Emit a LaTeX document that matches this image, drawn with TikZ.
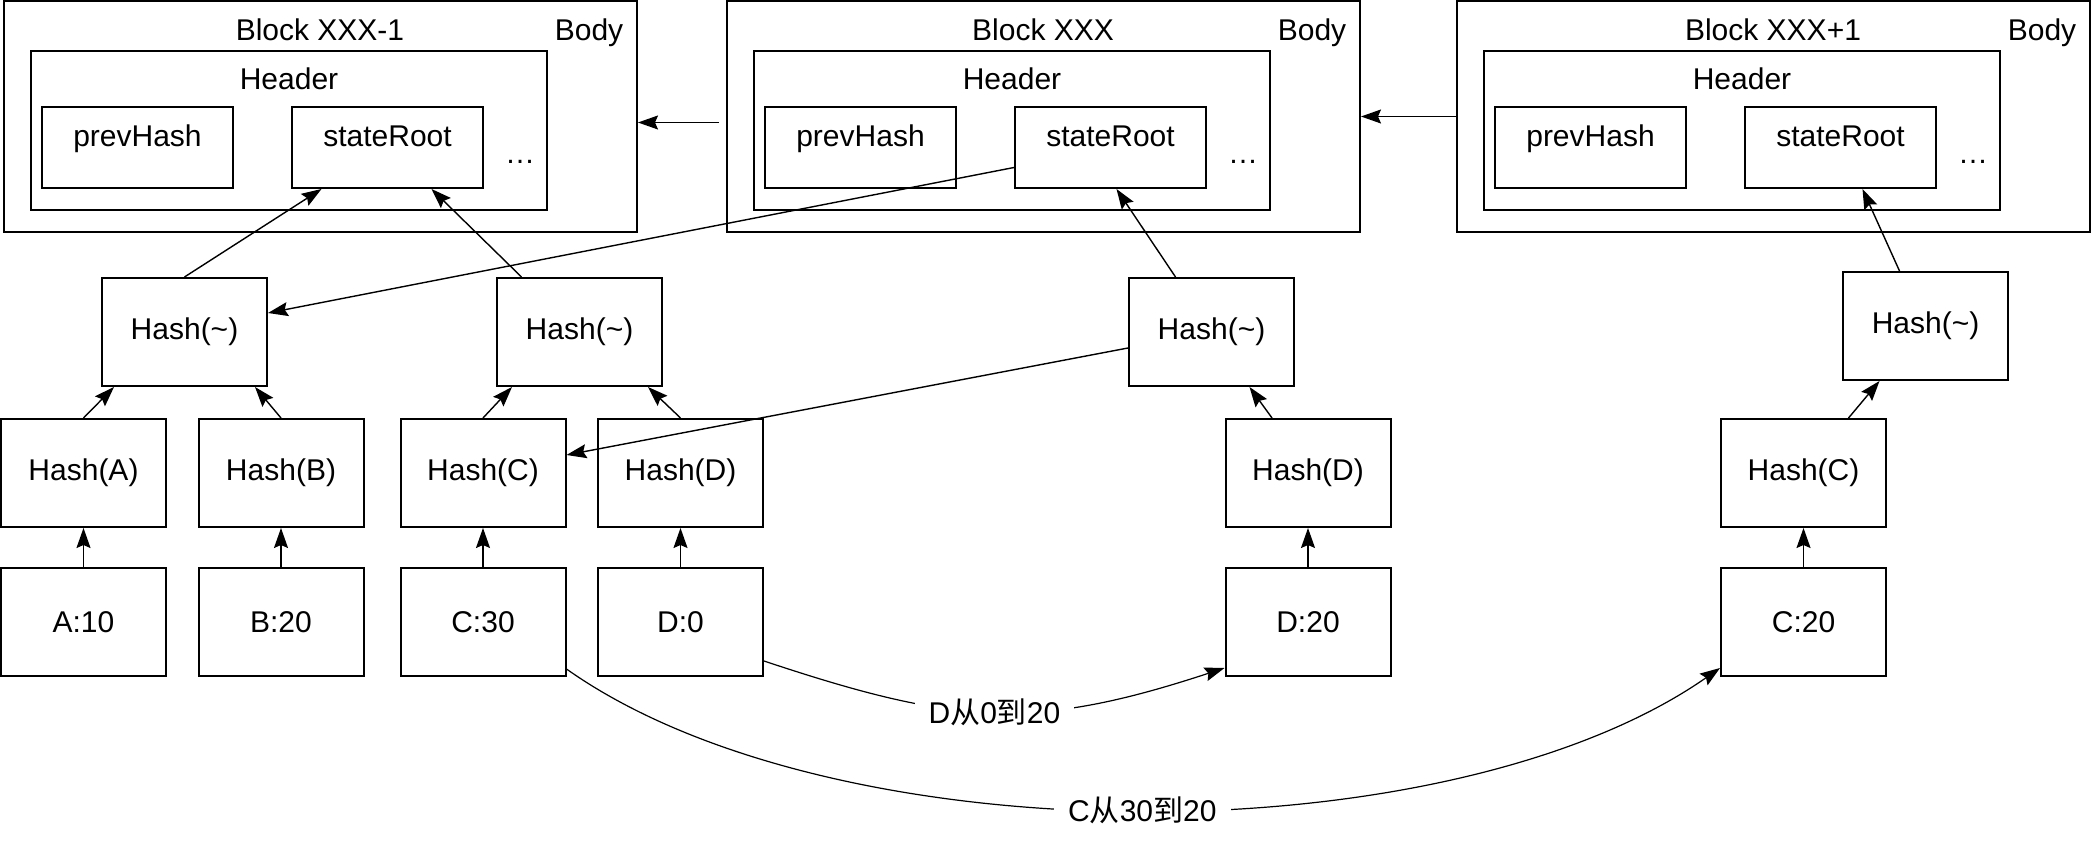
\documentclass[tikz,border=0pt]{standalone}
\usepackage{fontspec}
\setmainfont{Liberation Sans}
\newfontfamily\cjk{Noto Sans CJK SC}
\usetikzlibrary{arrows.meta}

\begin{document}
\begin{tikzpicture}[x=0.5pt,y=-0.5pt,line width=1pt,font=\fontsize{15pt}{18pt}\selectfont]
    \tikzstyle{box}=[draw,rectangle,inner sep=0pt]
    \tikzstyle{body}=[box,minimum width=316.5pt,minimum height=115.5pt]
    \tikzstyle{header}=[box,minimum width=258pt,minimum height=79.5pt]
    \tikzstyle{field}=[box,minimum width=95.5pt,minimum height=40.5pt]
    \tikzstyle{hash}=[box,minimum width=82.5pt,minimum height=54pt]
    \tikzstyle{value}=[hash]
    \tikzstyle{txt}=[anchor=base,inner sep=0pt]
    \tikzstyle{arrow}=[-{Stealth[length=10pt,width=7pt,inset=1.5pt]},line width=0.7pt]
    \tikzstyle{change}=[arrow,line width=0.6pt]
    \tikzstyle{changelabel}=[fill=white,inner xsep=7pt,inner ysep=2pt]

    \useasboundingbox (0,0) rectangle (2092,844);

    % Draw the three blocks
    \foreach \n / \x / \blockname in {1/4/Block XXX-1, 2/727/Block XXX, 3/1457/Block XXX+1}
    {
        \begin{scope}[shift={(\x,0)}]
            \node[body] (body-\n) at (316.5,116.5) {};
            \node[header] (header-\n) at (285,130.5) {};
            \node[field] (prev-\n) at (133.5,147.5) {};
            \node[field] (root-\n) at (383.5,147.5) {};
            \node[txt] (title-\n) at (316,41) {\blockname};
            \node[txt] (bodytxt-\n) at (585,41) {Body};
            \node[txt] (headtxt-\n) at (285,90) {Header};
            \node[txt] (prevtxt-\n) at (133.5,147) {prevHash};
            \node[txt] (roottxt-\n) at (383.5,147) {stateRoot};
            \node[txt] (dots-\n) at (516,164) {…};
        \end{scope}
    }

    % Link the blocks
    \draw[arrow] ([xshift=-3.5pt,yshift=-3pt]body-2.west) -- ([yshift=-3pt]body-1.east);
    \draw[arrow] (body-3.west) -- (body-2.east);

    % Draw the Hash(~) nodes
    \node[hash] (hroot-1) at (184.5,332) {Hash(\textasciitilde)};
    \node[hash] (hcd) at (579.5,332) {Hash(\textasciitilde)};
    \node[hash] (hroot-2) at (1211.5,332) {Hash(\textasciitilde)};
    \node[hash] (hroot-3) at (1925.5,326) {Hash(\textasciitilde)};

    % Draw the accounts of block XXX-1 and their hashes
    \foreach \name / \x / \val in {A/83.5/A:10, B/281/B:20, C/483/C:30, D/680.5/D:0}
    {
        \node[hash] (h\name) at (\x,473) {Hash(\name)};
        \node[value] (v\name) at (\x,622) {\val};
        \draw[arrow] (v\name) -- (h\name);
    }

    % Changed accounts
    \node[hash] (hD2) at (1308,473) {Hash(D)};
    \node[value] (vD2) at (1308,622) {D:20};
    \node[hash] (hC2) at (1803.5,473) {Hash(C)};
    \node[value] (vC2) at (1803.5,622) {C:20};
    \draw[arrow] (vD2) -- (hD2);
    \draw[arrow] (vC2) -- (hC2);

    % Connect the tree
    \draw[arrow] (hA.north) -- ([xshift=6.5pt]hroot-1.south west);
    \draw[arrow] (hB.north) -- ([xshift=-6.5pt]hroot-1.south east);
    \draw[arrow] (hC.north) -- ([xshift=8pt]hcd.south west);
    \draw[arrow] (hD.north) -- ([xshift=-7.5pt]hcd.south east);
    \draw[arrow] ([xshift=-18pt]hD2.north) -- ([xshift=19pt]hroot-2.south);
    \draw[arrow] ([xshift=22.5pt]hC2.north) -- ([xshift=-23pt]hroot-3.south);

    \draw[arrow] (hroot-1.north) -- ([xshift=-33pt]root-1.south);
    \draw[arrow] ([xshift=-29pt]hcd.north) -- ([xshift=22pt]root-1.south);
    \draw[arrow] ([xshift=-18pt]hroot-2.north) -- ([xshift=3pt]root-2.south);
    \draw[arrow] ([xshift=-13pt]hroot-3.north) -- ([xshift=11pt]root-3.south);

    % Shared subtrees
    \draw[arrow] ([yshift=-10pt]root-2.west) -- ([yshift=9.5pt]hroot-1.east);
    \draw[arrow] ([yshift=-8pt]hroot-2.west) -- ([yshift=9pt]hC.east);

    % State changes
    \draw[change] ([yshift=-19.5pt]vD.east) .. controls (956,725) and (1033,731) .. ([yshift=-23pt]vD2.west)
        node[changelabel,pos=0.5] (dchange) {D{\cjk 从}0{\cjk 到}20};
    \draw[change] ([yshift=-23.5pt]vC.east) .. controls (835,859) and (1449,857) .. ([yshift=-23pt]vC2.west)
        node[changelabel,pos=0.5] (cchange) {C{\cjk 从}30{\cjk 到}20};

\end{tikzpicture}
\end{document}
